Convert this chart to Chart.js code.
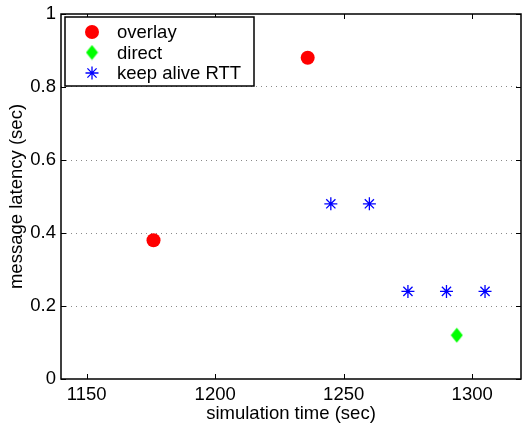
<!DOCTYPE html>
<html lang="en">
<head>
    <meta charset="UTF-8">
    <title>Message latency</title>
    <script src="https://cdn.jsdelivr.net/npm/chart.js"></script>
    <style>
        html, body { margin: 0; padding: 0; background: #fff; }
        #wrap { width: 523px; height: 425px; }
    </style>
</head>
<body>
    <div id="wrap"><canvas id="latencyChart" width="523" height="425"></canvas></div>
    <script>
        // data
        var overlayTime = [1176, 1236];
        var overlayLatency = [0.38, 0.88];
        var directTime = [1294];
        var directLatency = [0.12];
        var rttTime = [1245, 1260, 1275, 1290, 1305];
        var rttLatency = [0.48, 0.48, 0.24, 0.24, 0.24];
        var xTicks = [1150, 1200, 1250, 1300];
        var yTicks = [0, 0.2, 0.4, 0.6, 0.8, 1];

        function toPoints(xs, ys) {
            return xs.map(function (x, i) { return { x: x, y: ys[i] }; });
        }

        // matlab style diamond (taller than wide)
        var diamond = document.createElement('canvas');
        diamond.width = 13;
        diamond.height = 16;
        var dctx = diamond.getContext('2d');
        dctx.fillStyle = '#00ff00';
        dctx.beginPath();
        dctx.moveTo(6.5, 0.5);
        dctx.lineTo(12.5, 8);
        dctx.lineTo(6.5, 15.5);
        dctx.lineTo(0.5, 8);
        dctx.closePath();
        dctx.fill();

        var font = { family: 'Liberation Sans, Arial, Helvetica, sans-serif', size: 18.5 };

        // box, inner ticks, legend
        var framePlugin = {
            id: 'frame',
            afterDatasetsDraw: function (chart) {
                var ctx = chart.ctx;
                var a = chart.chartArea;
                var xs = chart.scales.x, ys = chart.scales.y;
                ctx.save();
                ctx.strokeStyle = '#000';
                ctx.lineWidth = 1;
                ctx.beginPath();
                xTicks.forEach(function (t) {
                    var px = Math.round(xs.getPixelForValue(t)) + 0.5;
                    ctx.moveTo(px, a.bottom); ctx.lineTo(px, a.bottom - 5);
                    ctx.moveTo(px, a.top); ctx.lineTo(px, a.top + 5);
                });
                yTicks.forEach(function (t) {
                    var py = Math.round(ys.getPixelForValue(t)) + 0.5;
                    ctx.moveTo(a.left, py); ctx.lineTo(a.left + 5, py);
                    ctx.moveTo(a.right, py); ctx.lineTo(a.right - 5, py);
                });
                ctx.stroke();
                ctx.lineWidth = 1.5;
                ctx.strokeRect(a.left, a.top, a.right - a.left, a.bottom - a.top);

                // legend
                var lx = 65, ly = 17, lw = 189, lh = 69;
                ctx.fillStyle = '#fff';
                ctx.fillRect(lx, ly, lw, lh);
                ctx.lineWidth = 1.5;
                ctx.strokeStyle = '#000';
                ctx.strokeRect(lx, ly, lw, lh);
                ctx.font = font.size + 'px ' + font.family;
                ctx.textBaseline = 'middle';
                ctx.textAlign = 'left';
                chart.data.datasets.forEach(function (ds, i) {
                    var cy = ly + 15 + i * 20.5;
                    ctx.save();
                    ctx.fillStyle = ds.backgroundColor;
                    ctx.strokeStyle = ds.borderColor;
                    ctx.lineWidth = ds.borderWidth;
                    Chart.helpers.drawPoint(ctx, {
                        pointStyle: ds.pointStyle,
                        radius: ds.pointRadius,
                        rotation: 0,
                        borderWidth: ds.borderWidth
                    }, lx + 27, cy);
                    ctx.restore();
                    ctx.fillStyle = '#000';
                    ctx.fillText(ds.label, lx + 52, cy + 1);
                });
                ctx.restore();
            }
        };

        var ctx = document.getElementById('latencyChart').getContext('2d');
        var latencyChart = new Chart(ctx, {
            type: 'scatter',
            data: {
                datasets: [{
                    label: 'overlay',
                    data: toPoints(overlayTime, overlayLatency),
                    pointStyle: 'circle',
                    pointRadius: 7,
                    backgroundColor: '#ff0000',
                    borderColor: '#ff0000',
                    borderWidth: 0
                }, {
                    label: 'direct',
                    data: toPoints(directTime, directLatency),
                    pointStyle: diamond,
                    pointRadius: 7,
                    backgroundColor: '#00ff00',
                    borderColor: '#00ff00',
                    borderWidth: 0
                }, {
                    label: 'keep alive RTT',
                    data: toPoints(rttTime, rttLatency),
                    pointStyle: 'star',
                    pointRadius: 6.5,
                    backgroundColor: '#0000ff',
                    borderColor: '#0000ff',
                    borderWidth: 1.3
                }]
            },
            options: {
                responsive: false,
                animation: false,
                events: [],
                layout: { autoPadding: false, padding: { top: 14, right: 2, left: 0, bottom: 0 } },
                plugins: { legend: { display: false }, tooltip: { enabled: false } },
                scales: {
                    x: {
                        type: 'linear',
                        min: 1140,
                        max: 1319,
                        afterBuildTicks: function (scale) {
                            scale.ticks = xTicks.map(function (v) { return { value: v }; });
                        },
                        afterFit: function (scale) {
                            scale.height = 46;
                            scale.paddingLeft = 0;
                            scale.paddingRight = 0;
                        },
                        grid: { display: false, drawTicks: false },
                        border: { display: false },
                        ticks: {
                            color: '#000',
                            font: font,
                            padding: 5,
                            maxRotation: 0,
                            callback: function (v) { return String(v); }
                        },
                        title: { display: true, text: 'simulation time (sec)', color: '#000', font: font, padding: 0 }
                    },
                    y: {
                        min: 0,
                        max: 1,
                        afterBuildTicks: function (scale) {
                            scale.ticks = yTicks.map(function (v) { return { value: v }; });
                        },
                        afterFit: function (scale) {
                            scale.width = 61;
                            scale.paddingTop = 0;
                            scale.paddingBottom = 0;
                        },
                        grid: {
                            drawTicks: false,
                            color: function (c) {
                                var v = c.tick ? c.tick.value : 0;
                                return (v === 0 || v === 1) ? 'rgba(0,0,0,0)' : '#8a8a8a';
                            }
                        },
                        border: { display: false, dash: [1, 4] },
                        ticks: {
                            color: '#000',
                            font: font,
                            padding: 5,
                            callback: function (v) { return String(Math.round(v * 10) / 10); }
                        },
                        title: { display: true, text: 'message latency (sec)', color: '#000', font: font, padding: { top: 6, bottom: 0 } }
                    }
                }
            },
            plugins: [framePlugin]
        });
    </script>
</body>
</html>
